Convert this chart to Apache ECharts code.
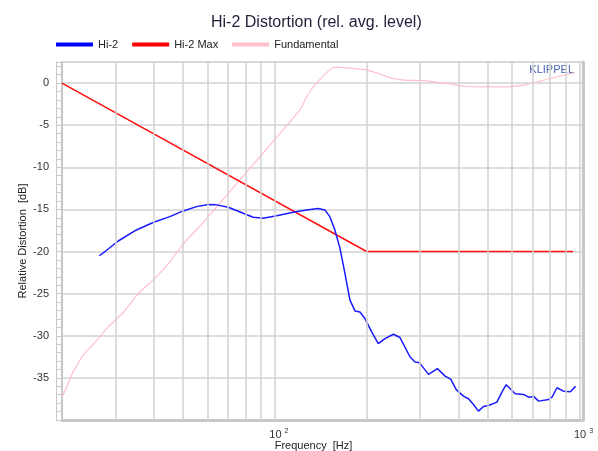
<!DOCTYPE html>
<html>
<head>
<meta charset="utf-8">
<script src="https://cdn.jsdelivr.net/npm/echarts@6/dist/echarts.min.js"></script>
<style>
html,body{margin:0;padding:0;background:#fff;}
#chart{width:598px;height:451px;}
</style>
</head>
<body>
<div id="chart"></div>
<script>
// ---- data (frequency in Hz, level in dB) ----
const hi2Freq = [26.5, 27.7, 30.6, 35.1, 40, 45.2, 50, 55.3, 60.4, 64.4, 70.3, 78.7, 84.9, 91.5, 101.3, 114.8, 127.1, 138.7, 145.9, 151.5, 157.4, 163.5, 169.8, 176.4, 183.2, 190.2, 197.5, 207.8, 218.5, 229.8, 244.9, 257.5, 277.9, 288.5, 298.1, 319.5, 341.6, 362.2, 378.3, 393.8, 416.1, 432.1, 446.7, 466, 484.1, 502.9, 535.6, 556.2, 574.6, 615.1, 655.2, 680.5, 706.8, 734.2, 792, 812.6, 843.9, 888.3, 934, 970.3];
const hi2Db = [-20.5, -20.0, -18.75, -17.44, -16.52, -15.86, -15.18, -14.67, -14.43, -14.46, -14.74, -15.45, -15.93, -16.05, -15.74, -15.33, -15.06, -14.9, -15.06, -15.86, -17.44, -19.6, -22.6, -25.77, -27.05, -27.17, -27.95, -29.54, -30.93, -30.33, -29.82, -30.21, -32.52, -33.12, -33.19, -34.58, -33.9, -34.79, -35.18, -36.4, -37.17, -37.48, -38.07, -38.95, -38.39, -38.27, -37.88, -36.69, -35.81, -36.88, -36.96, -37.29, -37.2, -37.76, -37.56, -37.29, -36.17, -36.6, -36.64, -36.01];

const maxFreq = [20, 200, 952];
const maxDb = [0, -20, -20];

const fundFreq = [20, 20.7, 21.6, 22.4, 23.5, 25.0, 26.6, 28.3, 30, 32.2, 35.6, 40, 44.8, 49.8, 60, 75.8, 89.3, 103.8, 120.8, 128.7, 137.1, 151.5, 157.4, 171.9, 197.5, 215.6, 244.9, 270.9, 306.9, 339.4, 373.9, 416, 496.9, 590, 670, 779, 888, 963.8];
const fundDb = [-37.3, -36.1, -34.5, -33.5, -32.3, -31.25, -30.1, -29.0, -28.1, -27.0, -25.0, -23.3, -21.4, -19.2, -16.0, -11.7, -8.75, -6.0, -3.15, -1.3, 0.02, 1.6, 1.88, 1.81, 1.6, 1.21, 0.54, 0.33, 0.3, 0.1, -0.1, -0.38, -0.45, -0.42, -0.18, 0.42, 0.93, 1.21];

const gridFreqs = [30, 40, 50, 60, 70, 80, 90, 100, 200, 300, 400, 500, 600, 700, 800, 900, 1000];
const xTickLabels = {100: '2', 1000: '3'};

const titleText = 'Hi-2 Distortion (rel. avg. level)';
const seriesNames = ['Hi-2', 'Hi-2 Max', 'Fundamental'];

function pairs(xs, ys) { return xs.map((x, i) => [x, ys[i]]); }

const chart = echarts.init(document.getElementById('chart'), null, {renderer: 'canvas'});
const font = 'Liberation Sans, Arial, sans-serif';
const gridColor = '#d2d2d2';

chart.setOption({
  animation: false,
  backgroundColor: '#ffffff',
  textStyle: {fontFamily: font},
  title: {
    text: titleText,
    left: 206,
    top: 10,
    textStyle: {fontSize: 16, fontWeight: 'normal', color: '#1f1f3a', fontFamily: font}
  },
  legend: {
    data: seriesNames,
    left: 51,
    top: 34,
    icon: 'rect',
    itemWidth: 37,
    itemHeight: 4,
    itemGap: 14,
    textStyle: {fontSize: 11, color: '#222', fontFamily: font}
  },
  grid: {
    left: 62, right: 15, top: 62, bottom: 31,
    containLabel: false,
    outerBoundsMode: 'none',
    show: true, borderColor: '#cfcfcf', borderWidth: 1
  },
  graphic: [{
    type: 'text',
    right: 24, top: 64,
    style: {text: 'KLIPPEL', fill: '#4a64b4', font: '11px ' + font}
  }],
  xAxis: {
    type: 'log',
    logBase: 10,
    min: 20,
    max: 1027,
    name: 'Frequency  [Hz]',
    nameLocation: 'middle',
    nameGap: 20,
    nameMoveOverlap: false,
    nameTextStyle: {fontSize: 11, color: '#222', padding: [0, 18, 0, 0]},
    axisLine: {show: true, onZero: false, lineStyle: {color: '#c8c8c8', width: 3}},
    axisTick: {show: false},
    splitLine: {show: false},
    axisLabel: {
      customValues: [100, 1000],
      margin: 8,
      color: '#333',
      fontSize: 11,
      padding: [0, 0, 0, 8],
      formatter: function (v) {
        const k = Math.round(v);
        return xTickLabels[k] ? '10 {s|' + xTickLabels[k] + '}' : '';
      },
      rich: {s: {fontSize: 7, verticalAlign: 'top', padding: [0,0,6,0], color: '#333'}}
    }
  },
  yAxis: [{
    type: 'value',
    min: -40,
    max: 2.5,
    interval: 5,
    name: 'Relative Distortion  [dB]',
    nameLocation: 'middle',
    nameGap: 34,
    nameMoveOverlap: false,
    nameTextStyle: {fontSize: 11, color: '#222'},
    axisLine: {show: true, onZero: false, lineStyle: {color: '#c8c8c8', width: 2}},
    axisTick: {show: true, length: 6, lineStyle: {color: '#c8c8c8'}},
    minorTick: {show: true, splitNumber: 5, length: 6, lineStyle: {color: '#c8c8c8'}},
    splitLine: {show: true, lineStyle: {color: gridColor, width: 1.5}},
    axisLabel: {
      margin: 13,
      color: '#333',
      fontSize: 11,
      formatter: function (v) {
        if (v === -40 || Math.abs(v % 5) > 1e-6) return '';
        return String(v);
      }
    }
  }, {
    type: 'value',
    position: 'left',
    offset: 6,
    min: -40, max: 2.5,
    axisLine: {show: true, onZero: false, lineStyle: {color: '#c8c8c8', width: 1}},
    axisTick: {show: false},
    axisLabel: {show: false},
    splitLine: {show: false}
  }, {
    type: 'value',
    position: 'right',
    min: -40, max: 2.5,
    axisLine: {show: true, onZero: false, lineStyle: {color: '#c8c8c8', width: 3}},
    axisTick: {show: false},
    axisLabel: {show: false},
    splitLine: {show: false}
  }],
  series: [{
    name: 'gridlines',
    type: 'line',
    data: [],
    silent: true,
    z: 1,
    markLine: {
      silent: true,
      symbol: ['none', 'none'],
      label: {show: false},
      lineStyle: {color: gridColor, width: 1.5, type: 'solid'},
      data: gridFreqs.map(f => ({xAxis: f}))
    }
  }, {
    name: seriesNames[2],
    type: 'line',
    data: pairs(fundFreq, fundDb),
    showSymbol: false,
    smooth: 0.3,
    z: 2,
    lineStyle: {color: '#ffc0cb', width: 1.2},
    itemStyle: {color: '#ffc0cb'}
  }, {
    name: seriesNames[1],
    type: 'line',
    data: pairs(maxFreq, maxDb),
    showSymbol: false,
    z: 3,
    lineStyle: {color: '#ff1010', width: 1.5},
    itemStyle: {color: '#ff0000'}
  }, {
    name: seriesNames[0],
    type: 'line',
    data: pairs(hi2Freq, hi2Db),
    showSymbol: false,
    z: 4,
    lineStyle: {color: '#1a1aff', width: 1.5},
    itemStyle: {color: '#0000ff'}
  }]
});
</script>
</body>
</html>
